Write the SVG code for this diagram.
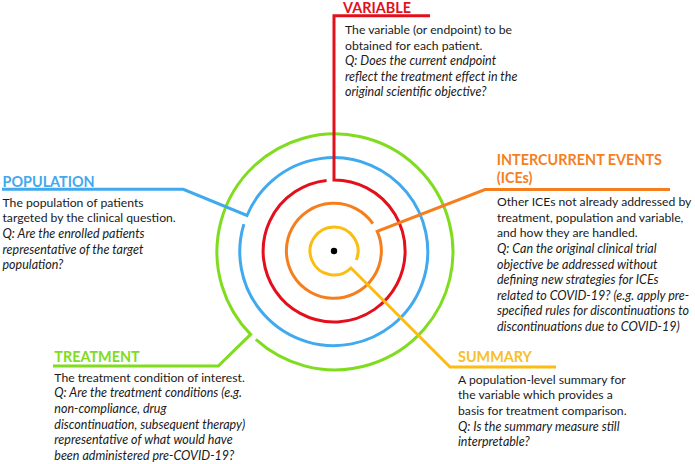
<svg xmlns="http://www.w3.org/2000/svg" width="695" height="464" viewBox="0 0 695 464">
<style>
.c{fill:none;stroke-width:3;stroke-linejoin:miter}
.h{font-family:Lato,"Liberation Sans",sans-serif;font-weight:bold;font-size:14.4px}
.b{font-family:Lato,"Liberation Sans",sans-serif;font-size:12.2px;fill:#1a1a1a}
.i{font-style:italic;font-size:12.5px}
</style>
<rect width="695" height="464" fill="#fff"/>
<g id="connectors">
<path class="c" stroke="#80dc1e" d="M53,366 H218.3 L250.6,334.4 A118,118 0 1 1 255.8,339.4"/>
<path class="c" stroke="#41a9ee" d="M2,189.3 H183.3 L247,215.5 A94,94 0 1 1 243.9,224.1"/>
<path class="c" stroke="#e3101b" d="M430,15.7 H334 V180 A71,71 0 1 1 326.6,180.4"/>
<path class="c" stroke="#f57f1f" d="M670,189.5 H485 L377.2,231.3 A47.5,47.5 0 1 1 372.9,223.7"/>
<path class="c" stroke="#fbbd12" d="M556,367 H450 L351,268 A24,24 0 1 1 356.3,260"/>
</g>
<g id="center"><circle cx="334" cy="251" r="3.2" fill="#000"/></g>
<g id="variable">
<text class="h" x="343" y="12.5" fill="#e3101b">VARIABLE</text>
<text class="b" x="345" y="34">The variable (or endpoint) to be</text>
<text class="b" x="345" y="49.6">obtained for each patient.</text>
<text class="b i" x="345" y="65.2">Q: Does the current endpoint</text>
<text class="b i" x="345" y="80.8">reflect the treatment effect in the</text>
<text class="b i" x="345" y="96.4">original scientific objective?</text>
</g>
<g id="population">
<text class="h" x="2.5" y="186.5" fill="#41a9ee">POPULATION</text>
<text class="b" x="2.5" y="206.8">The population of patients</text>
<text class="b" x="2.5" y="222.4">targeted by the clinical question.</text>
<text class="b i" x="2.5" y="238">Q: Are the enrolled patients</text>
<text class="b i" x="2.5" y="253.6">representative of the target</text>
<text class="b i" x="2.5" y="269.2">population?</text>
</g>
<g id="intercurrent-events">
<text class="h" x="496.7" y="164.5" fill="#f57f1f">INTERCURRENT EVENTS</text>
<text class="h" x="496.7" y="183" fill="#f57f1f">(ICEs)</text>
<text class="b" x="497" y="206.2">Other ICEs not already addressed by</text>
<text class="b" x="497" y="221.8">treatment, population and variable,</text>
<text class="b" x="497" y="237.4">and how they are handled.</text>
<text class="b i" x="497" y="253">Q: Can the original clinical trial</text>
<text class="b i" x="497" y="268.6">objective be addressed without</text>
<text class="b i" x="497" y="284.2">defining new strategies for ICEs</text>
<text class="b i" x="497" y="299.8">related to COVID-19? (e.g. apply pre-</text>
<text class="b i" x="497" y="315.4">specified rules for discontinuations to</text>
<text class="b i" x="497" y="331">discontinuations due to COVID-19)</text>
</g>
<g id="treatment">
<text class="h" x="54.3" y="361.5" fill="#80dc1e">TREATMENT</text>
<text class="b" x="54.3" y="381.8">The treatment condition of interest.</text>
<text class="b i" x="54.3" y="397.4">Q: Are the treatment conditions (e.g.</text>
<text class="b i" x="54.3" y="413">non-compliance, drug</text>
<text class="b i" x="54.3" y="428.6">discontinuation, subsequent therapy)</text>
<text class="b i" x="54.3" y="444.2">representative of what would have</text>
<text class="b i" x="54.3" y="459.8">been administered pre-COVID-19?</text>
</g>
<g id="summary">
<text class="h" x="458" y="361.5" fill="#f6c02a">SUMMARY</text>
<text class="b" x="458" y="383.8">A population-level summary for</text>
<text class="b" x="458" y="399.4">the variable which provides a</text>
<text class="b" x="458" y="415">basis for treatment comparison.</text>
<text class="b i" x="458" y="430.6">Q: Is the summary measure still</text>
<text class="b i" x="458" y="446.2">interpretable?</text>
</g>
</svg>
